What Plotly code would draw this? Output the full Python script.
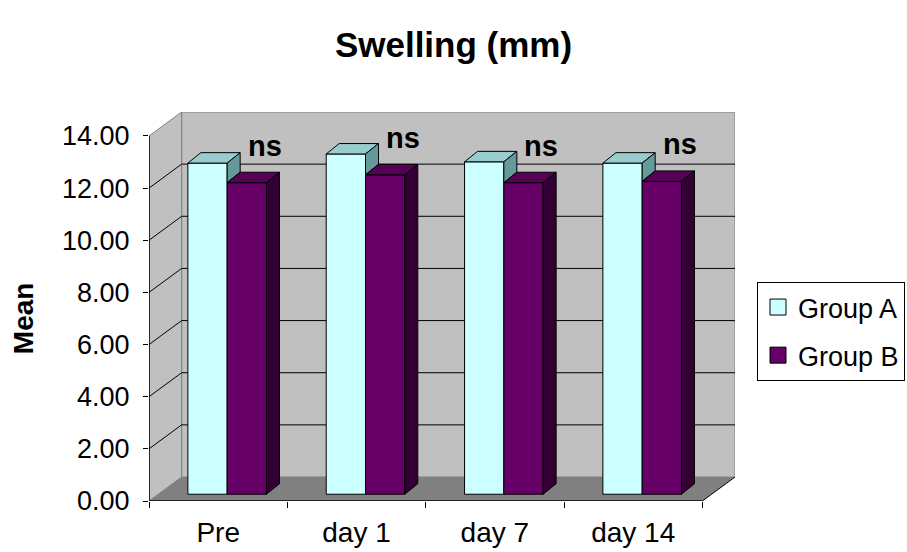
import plotly.graph_objects as go

# ---- data ----
categories = ["Pre", "day 1", "day 7", "day 14"]
group_a = [12.70, 13.05, 12.75, 12.70]
group_b = [11.95, 12.25, 11.95, 12.00]
sig_labels = ["ns", "ns", "ns", "ns"]
y_ticks = [0, 2, 4, 6, 8, 10, 12, 14]
y_tick_text = ["%.2f" % v for v in y_ticks]

# ---- 3D-look geometry (in axis units) ----
WALL_DX, WALL_DY = 0.236, 0.92      # depth offset of back wall
BAR_DX, BAR_DY = 0.094, 0.40        # depth of each bar
BAR_BASE = 0.26                     # bar front plane sits above front floor edge
BAR_W = 0.284
A_LEFT, B_LEFT = -0.219, 0.065
X0, X1 = -0.5, len(categories) - 0.5
YMAX = 14

FONT = "Liberation Sans, Arial, sans-serif"
pos = list(range(len(categories)))

fig = go.Figure()

# front faces (bars)
fig.add_trace(go.Bar(x=[p + A_LEFT + BAR_W / 2 for p in pos], y=group_a, base=BAR_BASE,
                     width=BAR_W, marker=dict(color="#CCFFFF", line=dict(color="black", width=1)),
                     showlegend=False, hoverinfo="skip"))
fig.add_trace(go.Bar(x=[p + B_LEFT + BAR_W / 2 for p in pos], y=group_b, base=BAR_BASE,
                     width=BAR_W, marker=dict(color="#660066", line=dict(color="black", width=1)),
                     showlegend=False, hoverinfo="skip"))


def top_faces(left, vals):
    xs, ys = [], []
    for p, v in zip(pos, vals):
        x0, x1, t = p + left, p + left + BAR_W, BAR_BASE + v
        xs += [x0, x1, x1 + BAR_DX, x0 + BAR_DX, x0, None]
        ys += [t, t, t + BAR_DY, t + BAR_DY, t, None]
    return xs, ys


def side_faces(left, vals, clip=None):
    xs, ys = [], []
    for i, (p, v) in enumerate(zip(pos, vals)):
        x1, t = p + left + BAR_W, BAR_BASE + v
        lo = BAR_BASE if clip is None else BAR_BASE + min(clip[i], v)
        xs += [x1, x1, x1 + BAR_DX, x1 + BAR_DX, x1, None]
        ys += [lo, t, t + BAR_DY, lo + BAR_DY, lo, None]
    return xs, ys


def poly(xs, ys, color):
    return go.Scatter(x=xs, y=ys, mode="lines", fill="toself", fillcolor=color,
                      line=dict(color="black", width=1), showlegend=False, hoverinfo="skip")


xa, ya = top_faces(A_LEFT, group_a)
fig.add_trace(poly(xa, ya, "#99CCCC"))
xa, ya = side_faces(A_LEFT, group_a, clip=group_b)
fig.add_trace(poly(xa, ya, "#669999"))
xb, yb = top_faces(B_LEFT, group_b)
fig.add_trace(poly(xb, yb, "#560056"))
xb, yb = side_faces(B_LEFT, group_b)
fig.add_trace(poly(xb, yb, "#330033"))

# legend entries
fig.add_trace(go.Scatter(x=[None], y=[None], mode="markers", name="Group A", legendgroup="a",
                         marker=dict(symbol="square", size=16, color="#CCFFFF",
                                     line=dict(color="black", width=1))))
fig.add_trace(go.Scatter(x=[None], y=[None], mode="markers", name="Group B", legendgroup="b",
                         marker=dict(symbol="square", size=16, color="#660066",
                                     line=dict(color="black", width=1))))

# ---- walls, floor, gridlines (shapes below traces) ----
shapes = []
bx0, bx1 = X0 + WALL_DX, X1 + WALL_DX
shapes.append(dict(type="path", layer="below", fillcolor="#C0C0C0", line=dict(color="#808080", width=1),
                   path=f"M{bx0},{WALL_DY} L{bx1},{WALL_DY} L{bx1},{YMAX + WALL_DY} L{bx0},{YMAX + WALL_DY} Z"))
shapes.append(dict(type="path", layer="below", fillcolor="#C0C0C0", line=dict(color="#808080", width=1),
                   path=f"M{X0},0 L{X0},{YMAX} L{bx0},{YMAX + WALL_DY} L{bx0},{WALL_DY} Z"))
shapes.append(dict(type="path", layer="below", fillcolor="#808080", line=dict(width=0),
                   path=f"M{X0},0 L{X1},0 L{bx1},{WALL_DY} L{bx0},{WALL_DY} Z"))
for v in y_ticks[1:-1]:
    shapes.append(dict(type="line", layer="below", x0=bx0, x1=bx1, y0=v + WALL_DY, y1=v + WALL_DY,
                       line=dict(color="black", width=1)))
    shapes.append(dict(type="line", layer="below", x0=X0, x1=bx0, y0=v, y1=v + WALL_DY,
                       line=dict(color="black", width=1)))
# floor right edge, axis lines
shapes.append(dict(type="line", layer="below", x0=X1, x1=bx1, y0=0, y1=WALL_DY, line=dict(color="black", width=1)))
shapes.append(dict(type="line", x0=X0, x1=X1, y0=0, y1=0, line=dict(color="black", width=1.5)))
shapes.append(dict(type="line", x0=X0, x1=X0, y0=0, y1=YMAX, line=dict(color="black", width=1.5)))

# ---- significance labels ----
annotations = []
for p, v, s in zip(pos, group_b, sig_labels):
    annotations.append(dict(x=p + 0.335, y=BAR_BASE + v + 1.42, text="<b>%s</b>" % s, showarrow=False,
                            xanchor="center", yanchor="middle",
                            font=dict(family=FONT, size=29, color="black")))
annotations.append(dict(x=-0.215, y=0.47, xref="paper", yref="paper", text="<b>Mean</b>",
                        textangle=-90, showarrow=False, xanchor="center", yanchor="middle",
                        font=dict(family=FONT, size=28, color="black")))

fig.update_layout(
    width=907, height=552,
    margin=dict(l=149, r=172, t=112, b=51, autoexpand=False),
    paper_bgcolor="white", plot_bgcolor="white",
    barmode="overlay",
    title=dict(text="<b>Swelling (mm)</b>", x=0.5, xanchor="center", y=1 - 45 / 552, yanchor="middle",
               font=dict(family=FONT, size=35, color="black")),
    xaxis=dict(range=[X0, X1 + WALL_DX], tickmode="array", tickvals=pos, ticktext=categories,
               ticks="", showgrid=False, zeroline=False, showline=False, ticklabelstandoff=12,
               tickfont=dict(family=FONT, size=28, color="black"),
               minor=dict(tickmode="array", tickvals=[p - 0.5 for p in pos] + [X1], ticks="outside",
                          ticklen=6, tickcolor="black", tickwidth=1, showgrid=False),
               fixedrange=True),
    yaxis=dict(range=[0, YMAX + WALL_DY], tickmode="array", tickvals=y_ticks, ticktext=y_tick_text,
               ticks="outside", ticklen=5, tickcolor="black", tickwidth=1, showgrid=False,
               zeroline=False, showline=False, ticklabelstandoff=8,
               tickfont=dict(family=FONT, size=27, color="black"), fixedrange=True),
    legend=dict(x=(757 - 149) / 586, y=(501 - 282) / 389, xanchor="left", yanchor="top",
                bordercolor="black", borderwidth=1, bgcolor="white", tracegroupgap=10,
                entrywidth=170, entrywidthmode="pixels",
                font=dict(family=FONT, size=27, color="black")),
    annotations=annotations,
    shapes=shapes,
)

fig.write_html("out.html")
